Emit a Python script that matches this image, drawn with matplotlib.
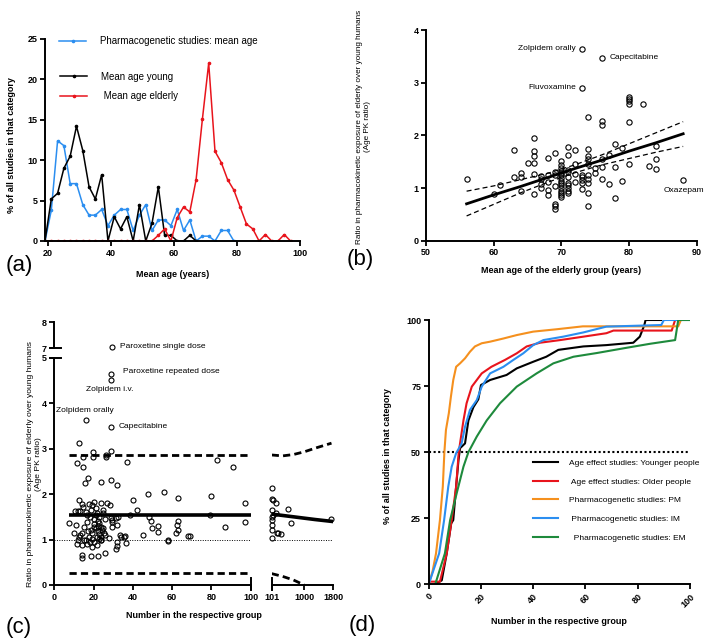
import matplotlib
matplotlib.use("Agg")
import matplotlib.pyplot as plt

plt.rcParams['font.family'] = ['Liberation Sans', 'DejaVu Sans']
plt.rcParams['axes.linewidth'] = 1.4

# ---------- (a) distribution of mean ages ----------
ages_pgx = list(range(19, 80, 2))
pct_pgx = [0, 3.8, 12.4, 11.8, 7.1, 7.1, 4.5, 3.2, 3.2, 3.9,
           1.9, 3.2, 3.9, 3.9, 1.3, 3.2, 4.5, 1.3, 2.6, 2.6,
           1.9, 3.9, 1.3, 2.6, 0, 0.6, 0.6, 0, 1.3, 1.3, 0]
ages_young = list(range(19, 68, 2))
pct_young = [0, 5.2, 5.9, 9.0, 10.5, 14.2, 11.2, 6.7, 5.2, 8.2,
             0, 3.0, 1.5, 3.0, 0, 4.5, 0, 2.2, 6.7, 0.7,
             0.7, 0, 0, 0.7, 0]
ages_old = list(range(19, 98, 2))
pct_old = [0, 0, 0, 0, 0, 0, 0, 0, 0, 0,
           0, 0, 0, 0, 0, 0, 0, 0, 0.7, 1.5,
           0, 2.9, 4.2, 3.6, 7.6, 15.1, 22.0, 11.1, 9.7, 7.6,
           6.3, 4.2, 2.1, 1.5, 0, 0.8, 0, 0, 0.8, 0]

# ---------- (b) age PK ratio vs mean age of elderly ----------
b_age = [56, 60, 61, 63, 63, 64, 64, 64, 65,
         66, 66, 66, 66, 66, 66, 67, 67, 67, 67,
         68, 68, 68, 68, 68, 69, 69, 69, 69, 69, 69, 69,
         70, 70, 70, 70, 70, 70, 70, 70, 70, 70, 70, 70, 70, 70, 70,
         71, 71, 71, 71, 71, 71, 71, 71, 71, 71,
         72, 72, 72, 72, 73, 73, 73, 73, 73, 73, 73,
         74, 74, 74, 74, 74, 74, 74, 74, 74, 74, 75, 75,
         76, 76, 76, 76, 76, 76, 77, 77, 78, 78, 78, 79, 79,
         80, 80, 80, 80, 80, 80, 82, 83, 84, 84, 84, 88]
b_ratio = [1.17, 0.88, 1.05, 1.73, 1.20, 1.28, 1.21, 0.95, 1.48,
           1.95, 1.70, 1.60, 1.47, 1.27, 0.89, 1.22, 1.17, 1.08, 1.00,
           1.57, 1.25, 1.12, 0.97, 0.87, 1.67, 1.30, 1.25, 1.03, 0.70, 0.65, 0.60,
           1.52, 1.44, 1.38, 1.33, 1.28, 1.24, 1.19, 1.14, 1.10, 1.05, 1.00, 0.95, 0.91, 0.87, 0.83,
           1.78, 1.63, 1.35, 1.30, 1.20, 1.10, 1.05, 1.00, 0.95, 0.91,
           1.72, 1.45, 1.27, 1.12, 3.63, 2.90, 1.25, 1.20, 1.15, 1.10, 0.98,
           2.35, 1.75, 1.60, 1.55, 1.46, 1.25, 1.18, 1.10, 0.90, 0.65, 1.38, 1.28,
           3.47, 2.28, 2.19, 1.55, 1.40, 1.18, 1.63, 1.08, 1.84, 1.40, 0.82, 1.76, 1.14,
           2.72, 2.69, 2.66, 2.60, 2.25, 1.46, 2.60, 1.41, 1.80, 1.55, 1.36, 1.16]
fit_age = [56, 60, 64, 68, 72, 76, 80, 84, 88]
fit_mid = [0.70, 0.87, 1.03, 1.20, 1.37, 1.53, 1.70, 1.86, 2.03]
fit_up = [0.94, 1.04, 1.16, 1.28, 1.44, 1.63, 1.84, 2.05, 2.26]
fit_lo = [0.47, 0.69, 0.91, 1.11, 1.29, 1.44, 1.56, 1.68, 1.79]

# ---------- (c) age PK ratio vs group size ----------
c_n = [28.9, 28.9, 16.0, 28.9, 12.7, 11.7, 14.4, 14.8, 19.9, 19.9,
       26.3, 26.3, 28.9, 36.8, 83.0, 91.0, 17.0, 15.6, 23.8, 29.0,
       31.7, 39.9, 47.9, 55.9, 62.8, 79.8, 97.1, 42.0, 38.5, 48.2,
       49.1, 49.9, 53.0, 53.0, 45.0, 57.9, 58.0, 62.8, 62.5, 61.8,
       63.2, 68.2, 69.0, 86.9, 97.1, 79.5,
       10.4, 12.1, 12.8, 14.3, 17.7, 20.2, 23.6, 27.0, 14.8, 18.5,
       21.0, 16.8, 21.9, 25.0, 28.7, 31.2, 7.5, 10.9, 15.1, 16.8,
       18.5, 21.0, 22.8, 24.5, 29.5, 32.0, 33.8, 10.0, 12.6, 14.3,
       16.0, 17.7, 19.4, 20.2, 21.9, 23.6, 25.3, 27.9, 31.8, 31.8,
       35.8, 11.7, 14.3, 16.8, 19.4, 21.9, 14.3, 14.3, 18.5, 22.3,
       25.6, 31.4, 29.2, 29.2, 32.6, 33.4, 28.4, 25.0, 36.3, 35.5,
       20.0, 20.0, 20.0, 22.0, 22.0, 22.0, 23.0, 23.0, 24.0, 24.0,
       24.0, 19.0, 18.0, 13.0, 15.0, 12.0, 17.0, 25.0, 26.0, 26.0,
       19.0, 21.0, 23.0, 18.0, 16.0, 13.0]
c_ratio = [4.64, 4.51, 3.64, 3.48, 3.13, 2.68, 2.60, 2.82, 2.92, 2.82,
           2.87, 2.81, 2.95, 2.70, 2.76, 2.60, 2.36, 2.25, 2.27, 2.31,
           2.20, 1.88, 2.00, 2.05, 1.91, 1.96, 1.81, 1.65, 1.53, 1.50,
           1.41, 1.26, 1.30, 1.17, 1.11, 1.00, 0.96, 1.41, 1.33, 1.15,
           1.20, 1.08, 1.08, 1.28, 1.39, 1.55,
           1.63, 1.63, 1.86, 1.78, 1.78, 1.82, 1.81, 1.81, 1.71, 1.65,
           1.69, 1.54, 1.58, 1.58, 1.47, 1.47, 1.36, 1.32, 1.28, 1.39,
           1.21, 1.25, 1.36, 1.21, 1.28, 1.32, 1.06, 1.14, 1.06, 1.14,
           0.99, 1.06, 1.14, 0.95, 1.06, 0.99, 1.14, 1.03, 0.95, 0.86,
           1.08, 0.91, 0.87, 0.91, 0.84, 0.87, 0.66, 0.59, 0.64, 0.64,
           0.70, 0.80, 1.39, 1.43, 1.50, 1.10, 1.77, 1.66, 0.92, 1.06,
           1.45, 1.35, 1.28, 1.40, 1.30, 1.18, 1.12, 1.02, 1.28, 0.98,
           1.05, 1.02, 0.94, 1.10, 1.00, 1.00, 1.18, 1.26, 1.45, 1.10,
           1.75, 1.55, 1.50, 1.50, 1.60, 1.62]
c_top_n = [29.2]
c_top_ratio = [7.05]
c_big_n = [101, 101, 129, 211, 101, 147, 211, 101, 120, 101,
           120, 285, 240, 101, 357, 541, 624, 1750]
c_big_ratio = [2.14, 1.89, 1.87, 1.80, 1.66, 1.55, 1.59, 1.44, 1.50, 1.32,
               1.22, 1.15, 1.15, 1.04, 1.12, 1.67, 1.36, 1.45]
c_line_n = [7.5, 100]
c_mean, c_upper, c_lower = 1.55, 2.85, 0.26
c_curve_n = [101, 400, 700, 1000, 1300, 1750]
c_curve_mid = [1.56, 1.53, 1.50, 1.47, 1.44, 1.40]
c_curve_up = [2.86, 2.84, 2.87, 2.93, 3.01, 3.12]
c_curve_lo = [0.25, 0.19, 0.11, 0.0]

# ---------- (d) cumulative distribution of group size ----------
d_young_n = [2.5, 5, 6.9, 8.6, 9.4, 10.5, 11.4, 12, 13.9, 15.2, 17.1, 19, 20, 23.5,
             29.8, 33.7, 40, 45, 49.6, 59.2, 68, 78.3, 80.8, 82.5, 83, 89]
d_young_p = [0, 1.5, 11.7, 23, 24.3, 37, 47, 51.5, 53.3, 62, 67, 70, 75.4, 77.3,
             79.2, 81.7, 84.2, 86.1, 88.7, 90, 90.5, 91.4, 93.7, 98, 100, 100]
d_old_n = [0, 0.5, 4.3, 6.9, 8.8, 10.5, 11.5, 13.3, 14.5, 16.5, 18.4, 20.3, 24,
           29.2, 33.7, 37.5, 42.6, 50.3, 59.2, 68, 70.7, 93, 94.3, 96]
d_old_p = [0, 1, 1, 11.7, 24.3, 37, 50, 62, 68.5, 74.8, 77.3, 79.8, 82.3,
           84.9, 87.4, 90, 91.4, 92.4, 93.7, 95, 96, 96, 100, 100]
d_pm_n = [0, 1.5, 2.8, 4.3, 5.4, 6, 6.6, 7.7, 8.5, 9.4, 10.5, 12, 13.9, 15.8,
          17.7, 20.3, 23.5, 28.6, 33.7, 40, 49, 59, 95.5, 96.5]
d_pm_p = [0, 5, 11.7, 24.3, 37, 50, 58.4, 64.7, 71, 77.3, 82.3, 83.6, 85.5, 88,
          90, 91.2, 91.8, 93, 94.3, 95.6, 96.5, 97.6, 97.6, 100]
d_im_n = [0, 4, 5.9, 7.5, 8.8, 10.5, 12.6, 13.9, 15.8, 18.4, 20.3, 23.5, 28.6,
          32.4, 36.2, 40, 43.9, 51.5, 59.2, 68, 89, 90, 100]
d_im_p = [0, 11.7, 24.3, 37, 44.5, 49.6, 53.3, 59.6, 66, 69.7, 74.8, 79.8, 82.3,
          84.9, 87.4, 90.5, 92.4, 93.7, 95.3, 97.5, 98.1, 100, 100]
d_em_n = [2.5, 6.2, 8.2, 10.7, 13.3, 15.2, 18.4, 22.2, 27.3, 33.7, 41.3, 47.7,
          55.4, 64.3, 75.8, 84.7, 94.3, 95.5, 100]
d_em_p = [0, 11.7, 24.3, 34.4, 44.5, 50, 55.9, 62, 68.5, 74.8, 79.8, 83.6,
          86.1, 87.5, 89.5, 91, 92.4, 100, 100]

BLUE = '#2b8ef0'
RED = '#e8141c'
ORANGE = '#f5901e'
GREEN = '#1e8a3c'

W, H = 709, 644
fig = plt.figure(figsize=(W / 100, H / 100), dpi=100)


def px_axes(l, t, r, b):
    return fig.add_axes([l / W, 1 - b / H, (r - l) / W, (b - t) / H])


def style(ax):
    ax.spines['top'].set_visible(False)
    ax.spines['right'].set_visible(False)
    ax.tick_params(direction='out', length=3.5, width=1.3, labelsize=6.5, pad=2)


def bold_ticks(ax):
    for lab in ax.get_xticklabels() + ax.get_yticklabels():
        lab.set_fontweight('bold')


# ---- panel (a)
ax = px_axes(45, 39, 300, 241)
style(ax)
h_pgx, = ax.plot(ages_pgx, pct_pgx, color=BLUE, lw=1.1, marker='o', ms=1.6)
h_young, = ax.plot(ages_young, pct_young, color='black', lw=1.1, marker='o', ms=1.6)
h_old, = ax.plot(ages_old, pct_old, color=RED, lw=1.1, marker='o', ms=1.6)
ax.set_xlim(19, 100)
ax.set_ylim(0, 25)
ax.set_xticks([20, 40, 60, 80, 100])
ax.set_yticks([0, 5, 10, 15, 20, 25])
ax.set_xlabel('Mean age (years)', fontsize=6.5, fontweight='bold')
ax.set_ylabel('% of all studies in that category', fontsize=6.5, fontweight='bold')
ax.xaxis.set_label_coords(0.5, -0.146)
ax.yaxis.set_label_coords(-0.114, 0.475)
bold_ticks(ax)
leg1 = ax.legend([h_pgx], ['Pharmacogenetic studies: mean age'], loc='upper left',
                 bbox_to_anchor=(59 / W, 1 - 36.5 / H), bbox_transform=fig.transFigure,
                 frameon=False, fontsize=7, handlelength=2.8, handletextpad=1.4,
                 borderpad=0, borderaxespad=0, numpoints=1)
ax.add_artist(leg1)
ax.legend([h_young, h_old], ['Mean age young', ' Mean age elderly'], loc='upper left',
          bbox_to_anchor=(60 / W, 1 - 71.5 / H), bbox_transform=fig.transFigure,
          frameon=False, fontsize=7, handlelength=2.8, handletextpad=1.4,
          labelspacing=1.0, borderpad=0, borderaxespad=0, numpoints=1)
fig.text(19 / W, 1 - 265 / H, '(a)', fontsize=16, ha='center', va='center')

# ---- panel (b)
ax = px_axes(426, 30, 696.7, 240.7)
style(ax)
ax.plot(b_age, b_ratio, 'o', mfc='none', mec='black', ms=3.8, mew=0.8)
ax.plot(fit_age, fit_mid, color='black', lw=2.0)
ax.plot(fit_age, fit_up, color='black', lw=0.9, ls=(0, (4, 2.5)))
ax.plot(fit_age, fit_lo, color='black', lw=0.9, ls=(0, (4, 2.5)))
ax.set_xlim(50, 90)
ax.set_ylim(0, 4)
ax.set_xticks([50, 60, 70, 80, 90])
ax.set_yticks([0, 1, 2, 3, 4])
ax.set_xlabel('Mean age of the elderly group (years)', fontsize=6.5, fontweight='bold')
ax.set_ylabel('Ratio in pharmacokinetic exposure of elderly over young humans\n(Age PK ratio)',
              fontsize=5.9)
ax.xaxis.set_label_coords(0.5, -0.122)
ax.yaxis.set_label_coords(-0.203, 0.54)
bold_ticks(ax)
ax.text(72.2, 3.64, 'Zolpidem orally', ha='right', va='center', fontsize=6)
ax.text(77.2, 3.47, 'Capecitabine', ha='left', va='center', fontsize=6)
ax.text(72.2, 2.90, 'Fluvoxamine', ha='right', va='center', fontsize=6)
ax.text(88.1, 0.95, 'Oxazepam', ha='center', va='center', fontsize=6)
fig.text(360 / W, 1 - 259 / H, '(b)', fontsize=16, ha='center', va='center')

# ---- panel (c): broken axes
axc = px_axes(54.3, 357.7, 250.7, 585)
axt = px_axes(54.3, 322, 250.7, 348.3)
axr = px_axes(271.7, 357.7, 333.3, 585)
for a in (axc, axt, axr):
    style(a)

mk = dict(mfc='none', mec='black', ms=3.6, mew=0.8, ls='none', marker='o', clip_on=False)
axc.plot(c_n, c_ratio, **mk)
axt.plot(c_top_n, c_top_ratio, **mk)
axr.plot(c_big_n, c_big_ratio, **mk)

dash = (0, (2.6, 1.5))
axc.plot(c_line_n, [c_mean, c_mean], color='black', lw=2.6, solid_capstyle='butt')
axc.plot(c_line_n, [c_upper, c_upper], color='black', lw=2.0, ls=dash)
axc.plot(c_line_n, [c_lower, c_lower], color='black', lw=2.0, ls=dash)
axc.axhline(1, color='black', lw=0.7, ls=(0, (1, 1.5)))
axr.plot(c_curve_n, c_curve_mid, color='black', lw=2.6)
axr.plot(c_curve_n, c_curve_up, color='black', lw=2.0, ls=dash)
axr.plot(c_curve_n[:4], c_curve_lo, color='black', lw=2.0, ls=dash)
axr.axhline(1, color='black', lw=0.7, ls=(0, (1, 1.5)))

axc.set_xlim(0, 100)
axc.set_ylim(0, 5)
axc.set_xticks([0, 20, 40, 60, 80, 100])
axc.set_yticks([0, 1, 2, 3, 4, 5])
axt.set_xlim(0, 100)
axt.set_ylim(7, 8)
axt.set_yticks([7, 8])
axt.spines['bottom'].set_visible(False)
axt.set_xticks([])
axt.patch.set_alpha(0)
axr.set_xlim(101, 1800)
axr.set_ylim(0, 5)
axr.set_xticks([101, 1000, 1800])
axr.set_yticks([])
axr.spines['left'].set_visible(False)
axr.patch.set_alpha(0)
for a in (axc, axt, axr):
    bold_ticks(a)

# break marks
axc.plot([-0.02, 0.035], [1, 1], transform=axc.transAxes, color='black', lw=1.4, clip_on=False)
axt.plot([-0.02, 0.035], [0, 0], transform=axt.transAxes, color='black', lw=1.4, clip_on=False)
axc.plot([1, 1], [-0.02, 0.03], transform=axc.transAxes, color='black', lw=1.4, clip_on=False)
axr.plot([0, 0], [-0.02, 0.03], transform=axr.transAxes, color='black', lw=1.4, clip_on=False)

axc.set_ylabel('Ratio in pharmacokinetic exposure of elderly over young humans\n(Age PK ratio)',
               fontsize=6.1)
axc.yaxis.set_label_coords(-0.063, 0.53)
fig.text(194 / W, 1 - 615 / H, 'Number in the respective group', fontsize=6.5,
         fontweight='bold', ha='center', va='center')

axt.text(33.5, 7.05, 'Paroxetine single dose', ha='left', va='center', fontsize=6)
axc.text(34.8, 4.69, 'Paroxetine repeated dose', ha='left', va='center', fontsize=6)
axc.text(28.1, 4.31, 'Zolpidem i.v.', ha='center', va='center', fontsize=6)
axc.text(15.6, 3.83, 'Zolpidem orally', ha='center', va='center', fontsize=6)
axc.text(32.6, 3.48, 'Capecitabine', ha='left', va='center', fontsize=6)
fig.text(19 / W, 1 - 627 / H, '(c)', fontsize=16, ha='center', va='center')

# ---- panel (d)
ax = px_axes(428.7, 320, 690, 584.3)
style(ax)
ax.axhline(50, color='black', lw=1.5, ls=(0, (1, 1.2)))
ax.plot(d_young_n, d_young_p, color='black', lw=1.5, label='Age effect studies: Younger people')
ax.plot(d_old_n, d_old_p, color=RED, lw=1.5, label=' Age effect studies: Older people')
ax.plot(d_pm_n, d_pm_p, color=ORANGE, lw=1.5, label='Pharmacogenetic studies: PM')
ax.plot(d_im_n, d_im_p, color=BLUE, lw=1.5, label=' Pharmacogenetic studies: IM')
ax.plot(d_em_n, d_em_p, color=GREEN, lw=1.5, label='  Pharmacogenetic studies: EM')
ax.set_xlim(0, 100)
ax.set_ylim(0, 100)
ax.set_xticks([0, 20, 40, 60, 80, 100])
ax.set_yticks([0, 25, 50, 75, 100])
plt.setp(ax.get_xticklabels(), rotation=45, ha='right', rotation_mode='anchor')
ax.set_xlabel('Number in the respective group', fontsize=6.5, fontweight='bold')
ax.set_ylabel('% of all studies in that category', fontsize=6.5, fontweight='bold')
ax.xaxis.set_label_coords(0.5, -0.124)
ax.yaxis.set_label_coords(-0.14, 0.485)
bold_ticks(ax)
ax.legend(loc='upper left', bbox_to_anchor=(532.7 / W, 1 - 459 / H),
          bbox_transform=fig.transFigure, frameon=False, fontsize=6,
          handlelength=3.0, handletextpad=1.4, labelspacing=1.3,
          borderpad=0, borderaxespad=0)
fig.text(362 / W, 1 - 625 / H, '(d)', fontsize=16, ha='center', va='center')

fig.savefig('out.png', dpi=100)
